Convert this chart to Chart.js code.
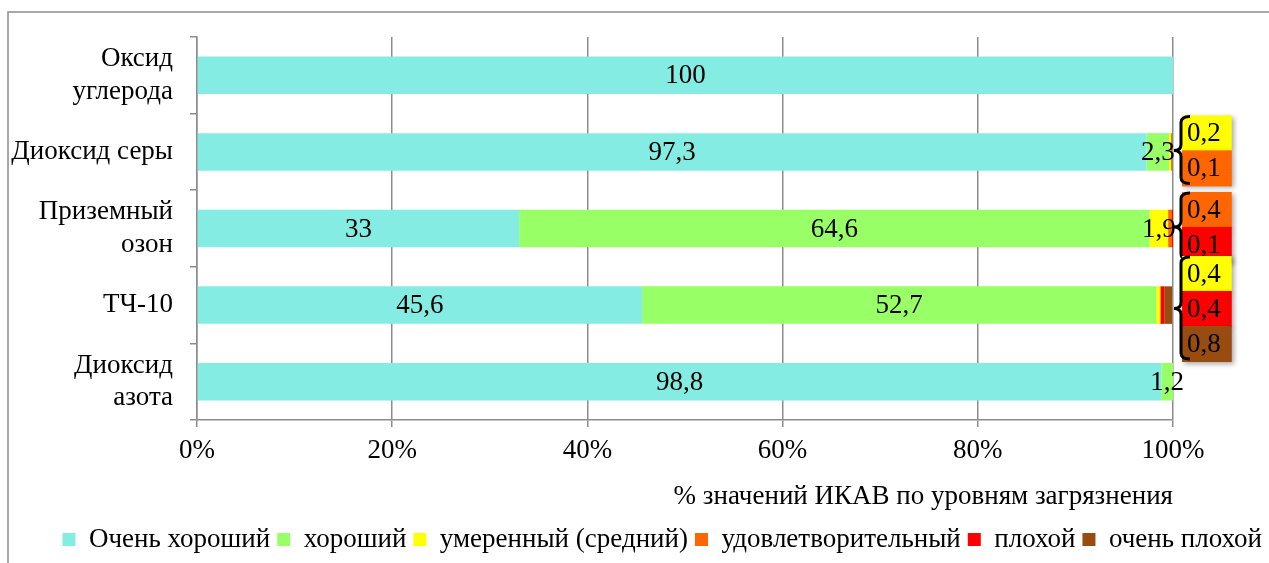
<!DOCTYPE html>
<html lang="ru">
<head>
<meta charset="utf-8">
<title>ИКАВ по уровням загрязнения</title>
<script src="https://cdn.jsdelivr.net/npm/chart.js@4.4.1/dist/chart.umd.min.js"></script>
<style>
  html, body { margin: 0; padding: 0; background: #fff; }
  #wrap { position: relative; width: 1269px; height: 563px; }
</style>
</head>
<body>
<div id="wrap"><canvas id="chart" width="1269" height="563"></canvas></div>
<script>
// pollutants, top to bottom
const categories = [['Оксид', 'углерода'], 'Диоксид серы', ['Приземный', 'озон'], 'ТЧ-10', ['Диоксид', 'азота']];

// share of AQI values per pollution level, %
const veryGood     = [100, 97.3, 33, 45.6, 98.8];
const good         = [0, 2.3, 64.6, 52.7, 1.2];
const moderate     = [0, 0.2, 1.9, 0.4, 0];
const satisfactory = [0, 0.1, 0.4, 0, 0];
const bad          = [0, 0, 0.1, 0.4, 0];
const veryBad      = [0, 0, 0, 0.8, 0];

const seriesNames = ['Очень хороший', 'хороший', 'умеренный (средний)', 'удовлетворительный', 'плохой', 'очень плохой'];
const seriesColors = ['#84ECE2', '#99FF66', '#FFFF00', '#FF6600', '#FF0000', '#994C0F'];
const xTickValues = [0, 20, 40, 60, 80, 100];
const axisTitle = '% значений ИКАВ по уровням загрязнения';

const GRID = '#8c8c8c';
const FONT = 'Liberation Serif';
const FS = 27;

const fmt = (v) => String(v).replace('.', ',');

// thin frame around the whole figure (left and top edges)
const framePlugin = {
  id: 'frame',
  beforeDraw(chart) {
    const ctx = chart.ctx;
    ctx.save();
    ctx.strokeStyle = GRID;
    ctx.lineWidth = 1.5;
    ctx.beginPath();
    ctx.moveTo(8, chart.height);
    ctx.lineTo(8, 12);
    ctx.lineTo(chart.width, 12);
    ctx.stroke();
    ctx.restore();
  }
};

// value labels: inside segments for >= 1, small ones go to a braced callout on the right
const labelPlugin = {
  id: 'segLabels',
  afterDatasetsDraw(chart) {
    const ctx = chart.ctx;
    const xs = chart.scales.x;
    ctx.save();
    ctx.font = FS + 'px "' + FONT + '"';
    ctx.textBaseline = 'middle';
    ctx.textAlign = 'center';
    ctx.fillStyle = '#000';

    const callouts = categories.map(() => []);
    const centers = [];
    chart.data.datasets.forEach((ds, di) => {
      const meta = chart.getDatasetMeta(di);
      meta.data.forEach((bar, i) => {
        centers[i] = bar.y;
        const v = ds.data[i];
        if (!v) return;
        if (v >= 1) {
          ctx.fillText(fmt(v), (bar.x + bar.base) / 2, bar.y + 1);
        } else {
          callouts[i].push({ v, color: ds.backgroundColor });
        }
      });
    });

    const step = 35;
    const boxH = 36;
    const left = xs.right + 9;
    let prevBottom = -Infinity;
    callouts.forEach((items, i) => {
      if (!items.length) return;
      const h = items.length * step;
      // stack centred on the bar, nudged down if it would hide the group above
      let top = centers[i] - 1.5 - h / 2;
      if (top < prevBottom - 6) top = prevBottom - 6;
      const bottom = top + h;
      prevBottom = bottom;
      const mid = (top + bottom) / 2;

      items.forEach((it, k) => {
        const txt = fmt(it.v);
        const w = ctx.measureText(txt).width + 16;
        const y0 = top + k * step;
        ctx.save();
        ctx.shadowColor = 'rgba(0,0,0,0.35)';
        ctx.shadowBlur = 5;
        ctx.shadowOffsetX = 2;
        ctx.shadowOffsetY = 2;
        ctx.fillStyle = it.color;
        ctx.fillRect(left, y0, w, boxH);
        ctx.restore();
        ctx.textAlign = 'left';
        ctx.fillStyle = '#000';
        ctx.fillText(txt, left + 5, y0 + boxH / 2 + 1);
      });

      // curly brace pointing back at the bar end
      const t = top + 1;
      const b = bottom - 2;
      const s = xs.right + 8;
      ctx.strokeStyle = '#000';
      ctx.lineWidth = 3;
      ctx.beginPath();
      ctx.moveTo(s + 9, t);
      ctx.quadraticCurveTo(s, t, s, t + 6);
      ctx.lineTo(s, mid - 6);
      ctx.quadraticCurveTo(s, mid, s - 7, mid);
      ctx.quadraticCurveTo(s, mid, s, mid + 6);
      ctx.lineTo(s, b - 6);
      ctx.quadraticCurveTo(s, b, s + 9, b);
      ctx.stroke();
    });
    ctx.restore();
  }
};

Chart.defaults.font.family = FONT;
Chart.defaults.font.size = FS;
Chart.defaults.color = '#000';

const seriesValues = [veryGood, good, moderate, satisfactory, bad, veryBad];

new Chart(document.getElementById('chart'), {
  type: 'bar',
  data: {
    labels: categories,
    datasets: seriesValues.map((vals, i) => ({
      label: seriesNames[i],
      data: vals,
      backgroundColor: seriesColors[i],
      borderWidth: 0,
      barPercentage: 1,
      categoryPercentage: 0.49
    }))
  },
  options: {
    indexAxis: 'y',
    responsive: false,
    animation: false,
    layout: { padding: { top: 37, right: 0, left: 0, bottom: 0 } },
    plugins: {
      legend: {
        position: 'bottom',
        align: 'end',
        labels: { boxWidth: 13, boxHeight: 13, padding: 7, font: { size: FS } }
      },
      tooltip: { enabled: false }
    },
    scales: {
      x: {
        stacked: true,
        min: 0,
        max: 100,
        afterBuildTicks: (scale) => { scale.ticks = xTickValues.map(v => ({ value: v })); },
        afterFit: (scale) => { scale.height = 99; },
        ticks: { callback: (v) => v + '%', padding: 8, maxRotation: 0 },
        grid: { color: GRID, lineWidth: 1.5, tickLength: 7, tickColor: GRID },
        border: { color: GRID, width: 1.5 },
        title: { display: true, text: axisTitle, align: 'end', padding: { top: 15, bottom: 6 } }
      },
      y: {
        stacked: true,
        afterFit: (scale) => {
          scale.width = 197;
          scale.paddingTop = 0;
          scale.paddingBottom = 0;
        },
        ticks: { padding: 17 },
        grid: { drawOnChartArea: false, color: GRID, lineWidth: 1.5, tickLength: 7, offset: true },
        border: { color: GRID, width: 1.5 }
      },
      // empty right-hand strip that leaves room for the callouts
      yRight: {
        type: 'category',
        axis: 'y',
        position: 'right',
        afterFit: (scale) => {
          scale.width = 96;
          scale.paddingTop = 0;
          scale.paddingBottom = 0;
        },
        ticks: { display: false },
        grid: { display: false },
        border: { display: false }
      }
    }
  },
  plugins: [framePlugin, labelPlugin]
});
</script>
</body>
</html>
